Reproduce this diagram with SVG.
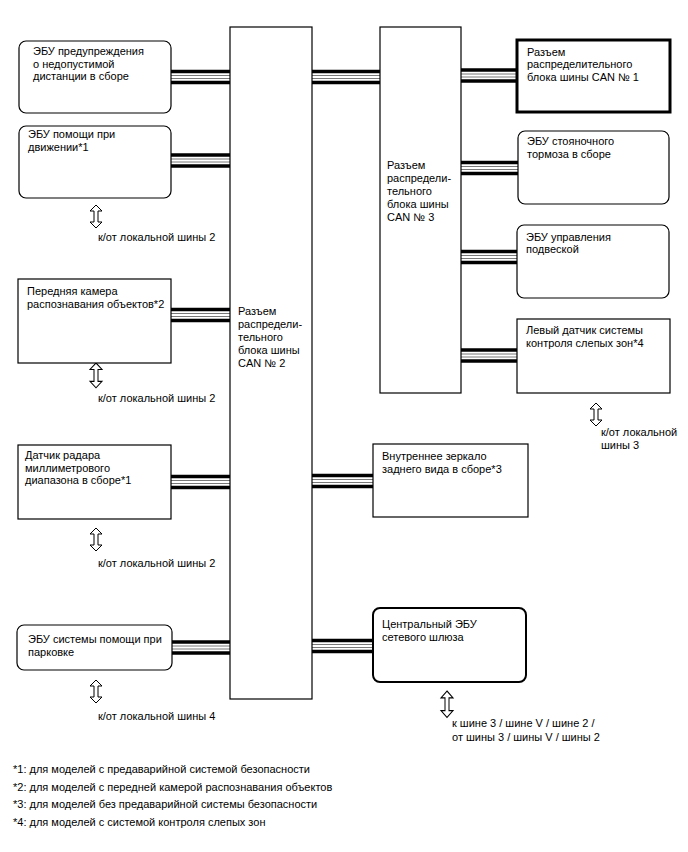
<svg xmlns="http://www.w3.org/2000/svg" width="688" height="852" viewBox="0 0 688 852">
<defs>
<style>
.box{fill:#fff;stroke:#000;stroke-width:1.2}
.bold{stroke-width:3}
.gw{stroke-width:2}
text{font-family:"Liberation Sans",Arial,sans-serif;font-size:11px;fill:#000}
.thick{fill:none;stroke:#000;stroke-width:3.5}
.thin{fill:none;stroke:#555;stroke-width:0.8}
.arr{fill:#fff;stroke:#000;stroke-width:1}
</style>
<path id="dbl" class="arr" d="M0,0 L6,6 L2,6 L2,17 L6,17 L0,23 L-6,17 L-2,17 L-2,6 L-6,6 Z"/>
</defs>
<rect width="688" height="852" fill="#fff"/>

<g id="connectors">
<path class="thick" d="M171,71.5H230M171,82.5H230 M312,71.5H380M312,82.5H380 M461,70H517M461,81H517 M171,155H230M171,166H230 M461,162.5H518M461,173.5H518 M171,309.5H230M171,320.5H230 M461,251.5H517M461,262.5H517 M461,350H517M461,361H517 M171,476.5H230M171,487.5H230 M312,475.5H373M312,486.5H373 M172,642H230M172,653H230 M312,640.5H373M312,651.5H373"/>
<path class="thin" d="M171,75.5H230M171,78.5H230 M312,75.5H380M312,78.5H380 M461,74H517M461,77H517 M171,159H230M171,162H230 M461,166.5H518M461,169.5H518 M171,313.5H230M171,316.5H230 M461,255.5H517M461,258.5H517 M461,354H517M461,357H517 M171,480.5H230M171,483.5H230 M312,479.5H373M312,482.5H373 M172,646H230M172,649H230 M312,644.5H373M312,647.5H373"/>
<use href="#dbl" transform="translate(96,205)"/>
<use href="#dbl" transform="translate(96,363) scale(1,1.08)"/>
<use href="#dbl" transform="translate(96,528)"/>
<use href="#dbl" transform="translate(96,680)"/>
<use href="#dbl" transform="translate(447,691) scale(1,1.15)"/>
<use href="#dbl" transform="translate(596,403)"/>
</g>

<g id="can2">
<rect class="box" x="230" y="27" width="82" height="672"/>
<text><tspan x="238" y="314.5">Разъем</tspan><tspan x="238" y="327.5">распредели-</tspan><tspan x="238" y="340.5">тельного</tspan><tspan x="238" y="353.5">блока шины</tspan><tspan x="238" y="366.5">CAN № 2</tspan></text>
</g>
<g id="can3">
<rect class="box" x="380" y="27" width="81" height="366"/>
<text><tspan x="387" y="169">Разъем</tspan><tspan x="387" y="182">распредели-</tspan><tspan x="387" y="195">тельного</tspan><tspan x="387" y="208">блока шины</tspan><tspan x="387" y="221">CAN № 3</tspan></text>
</g>

<g id="n1">
<rect class="box" x="19" y="41" width="152" height="72" rx="7"/>
<text><tspan x="33" y="55">ЭБУ предупреждения</tspan><tspan x="33" y="67.7">о недопустимой</tspan><tspan x="33" y="80.4">дистанции в сборе</tspan></text>
</g>
<g id="n2">
<rect class="box" x="19" y="126" width="152" height="72" rx="7"/>
<text><tspan x="28" y="138">ЭБУ помощи при</tspan><tspan x="28" y="151">движении*1</tspan></text>
</g>
<g id="l1"><text x="98" y="241">к/от локальной шины 2</text></g>
<g id="n3">
<rect class="box" x="18" y="279" width="153" height="84"/>
<text><tspan x="27" y="295">Передняя камера</tspan><tspan x="27" y="307.5">распознавания объектов*2</tspan></text>
</g>
<g id="l2"><text x="98" y="402">к/от локальной шины 2</text></g>
<g id="n4">
<rect class="box" x="18" y="445" width="153" height="74"/>
<text><tspan x="25" y="459">Датчик радара</tspan><tspan x="25" y="471.5">миллиметрового</tspan><tspan x="25" y="484">диапазона в сборе*1</tspan></text>
</g>
<g id="l3"><text x="98" y="567">к/от локальной шины 2</text></g>
<g id="n5">
<rect class="box" x="17" y="625" width="155" height="45" rx="7"/>
<text><tspan x="28" y="643">ЭБУ системы помощи при</tspan><tspan x="28" y="655.7">парковке</tspan></text>
</g>
<g id="l4"><text x="98" y="720">к/от локальной шины 4</text></g>

<g id="n6">
<rect class="box bold" x="517" y="40" width="153" height="72"/>
<text><tspan x="527" y="55.7">Разъем</tspan><tspan x="527" y="68.3">распределительного</tspan><tspan x="527" y="81">блока шины CAN № 1</tspan></text>
</g>
<g id="n7">
<rect class="box" x="518" y="131" width="151" height="73" rx="7"/>
<text><tspan x="527" y="145">ЭБУ стояночного</tspan><tspan x="527" y="158">тормоза в сборе</tspan></text>
</g>
<g id="n8">
<rect class="box" x="517" y="225" width="152" height="73" rx="7"/>
<text><tspan x="526" y="240.7">ЭБУ управления</tspan><tspan x="526" y="253.3">подвеской</tspan></text>
</g>
<g id="n9">
<rect class="box" x="517" y="319" width="153" height="74"/>
<text><tspan x="526" y="334">Левый датчик системы</tspan><tspan x="526" y="347">контроля слепых зон*4</tspan></text>
</g>
<g id="l5"><text><tspan x="601" y="436">к/от локальной</tspan><tspan x="601" y="449">шины 3</tspan></text></g>
<g id="n10">
<rect class="box" x="373" y="444" width="155" height="73"/>
<text><tspan x="382" y="460">Внутреннее зеркало</tspan><tspan x="382" y="473">заднего вида в сборе*3</tspan></text>
</g>
<g id="n11">
<rect class="box gw" x="373" y="608" width="153" height="74" rx="7"/>
<text><tspan x="382" y="628">Центральный ЭБУ</tspan><tspan x="382" y="640.7">сетевого шлюза</tspan></text>
</g>
<g id="l6"><text><tspan x="452" y="727">к шине 3 / шине V / шине 2 /</tspan><tspan x="452" y="741">от шины 3 / шины V / шины 2</tspan></text></g>

<g id="notes">
<text x="13" y="773">*1: для моделей с предаварийной системой безопасности</text>
<text x="13" y="790.5">*2: для моделей с передней камерой распознавания объектов</text>
<text x="13" y="808">*3: для моделей без предаварийной системы безопасности</text>
<text x="13" y="825.5">*4: для моделей с системой контроля слепых зон</text>
</g>
</svg>
